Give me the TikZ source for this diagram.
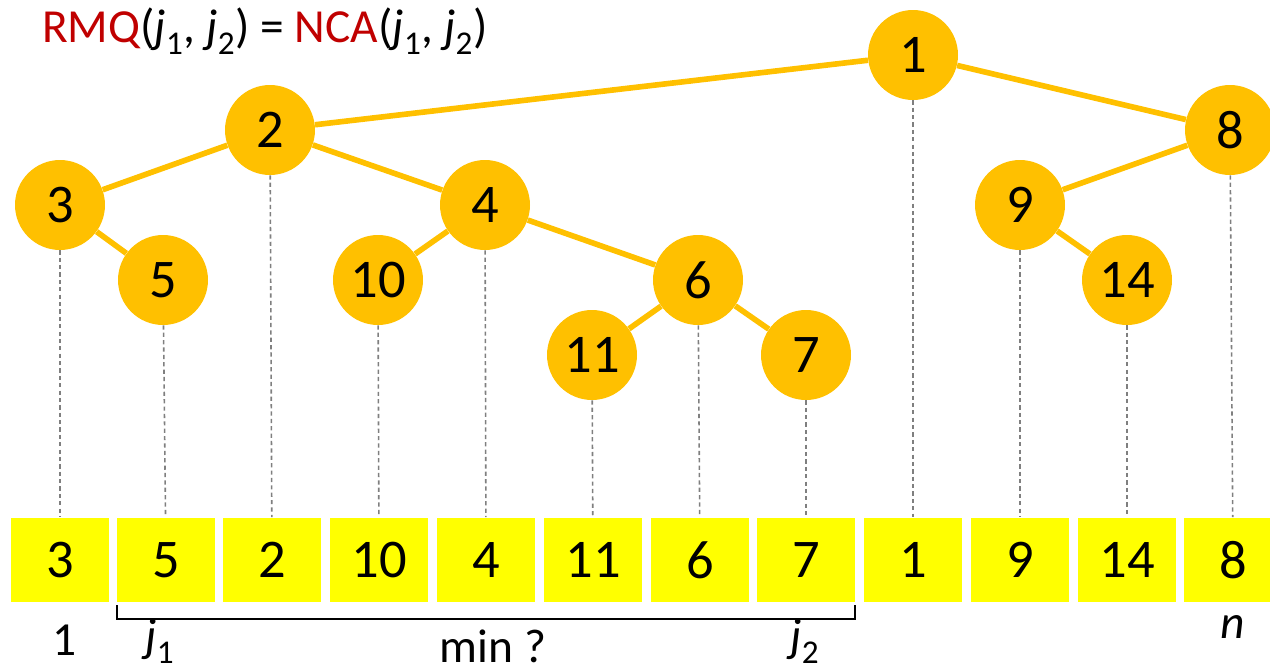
\documentclass[tikz,border=0pt]{standalone}
\usepackage{fontspec}
\setmainfont{Carlito}
\usepackage{xcolor}
\usepackage{tikz}

\definecolor{gold}{HTML}{FFC000}
\definecolor{cellyellow}{HTML}{FFFF00}
\definecolor{darkred}{HTML}{C00000}
\definecolor{dropgray}{HTML}{7F7F7F}
\newcommand{\jj}[1]{\textit{j}\raisebox{-0.25ex}{\textsubscript{#1}}}

\begin{document}
\begin{tikzpicture}[x=0.02cm, y=-0.02cm,
        tnode/.style={circle, fill=gold, minimum size=1.8cm, inner sep=0pt,
                      font=\fontsize{31}{36}\selectfont},
        cell/.style={fill=cellyellow, minimum width=1.96cm, minimum height=1.7cm,
                     inner sep=0pt, font=\fontsize{31}{36}\selectfont},
        edge/.style={draw=gold, line width=3.2pt},
        drop/.style={draw=dropgray, dash pattern=on 2.4pt off 1.8pt, line width=0.9pt},
        bracket/.style={draw=black, line width=1.2pt},
        lbl/.style={font=\fontsize{27}{32}\selectfont}
    ]
        \useasboundingbox (0,0) rectangle (1270,672);

        % array
        \node[cell] (c1)  at (60,  560) {3};
        \node[cell] (c2)  at (166, 560) {5};
        \node[cell] (c3)  at (272, 560) {2};
        \node[cell] (c4)  at (379, 560) {10};
        \node[cell] (c5)  at (486, 560) {4};
        \node[cell] (c6)  at (593, 560) {11};
        \node[cell] (c7)  at (700, 560) {6};
        \node[cell] (c8)  at (806, 560) {7};
        \node[cell] (c9)  at (913, 560) {1};
        \node[cell] (c10) at (1020,560) {9};
        \node[cell] (c11) at (1127,560) {14};
        \node[cell] (c12) at (1233,560) {8};

        % cartesian tree
        \node[tnode] (t1)  at (913, 55)  {1};
        \node[tnode] (t2)  at (270, 130) {2};
        \node[tnode] (t8)  at (1230,130) {8};
        \node[tnode] (t3)  at (60,  205) {3};
        \node[tnode] (t4)  at (485, 205) {4};
        \node[tnode] (t9)  at (1020,205) {9};
        \node[tnode] (t5)  at (163, 280) {5};
        \node[tnode] (t10) at (378, 280) {10};
        \node[tnode] (t6)  at (698, 280) {6};
        \node[tnode] (t14) at (1127,280) {14};
        \node[tnode] (t11) at (592, 355) {11};
        \node[tnode] (t7)  at (806, 355) {7};

        \draw[edge] (t1) -- (t2);
        \draw[edge] (t1) -- (t8);
        \draw[edge] (t2) -- (t3);
        \draw[edge] (t2) -- (t4);
        \draw[edge] (t3) -- (t5);
        \draw[edge] (t4) -- (t10);
        \draw[edge] (t4) -- (t6);
        \draw[edge] (t6) -- (t11);
        \draw[edge] (t6) -- (t7);
        \draw[edge] (t8) -- (t9);
        \draw[edge] (t9) -- (t14);

        \draw[drop] (t3)  -- (c1);
        \draw[drop] (t5)  -- (c2);
        \draw[drop] (t2)  -- (c3);
        \draw[drop] (t10) -- (c4);
        \draw[drop] (t4)  -- (c5);
        \draw[drop] (t11) -- (c6);
        \draw[drop] (t6)  -- (c7);
        \draw[drop] (t7)  -- (c8);
        \draw[drop] (t1)  -- (c9);
        \draw[drop] (t9)  -- (c10);
        \draw[drop] (t14) -- (c11);
        \draw[drop] (t8)  -- (c12);

        % query range
        \draw[bracket] ([yshift=-0.5mm]c2.south west) -- ++(0,14) -| ([yshift=-0.5mm]c8.south east);

        \node[lbl] (title) at (265, 31)
            {\textcolor{darkred}{RMQ}(\jj{1}, \jj{2}) = \textcolor{darkred}{NCA}(\jj{1}, \jj{2})};
        \node[lbl] (one)  at (65,  640) {1};
        \node[lbl] (ja)   at (160, 641) {\jj{1}};
        \node[lbl] (minq) at (493, 646) {min ?};
        \node[lbl] (jb)   at (805, 641) {\jj{2}};
        \node[lbl] (nn)   at (1233,627) {\textit{n}};
    \end{tikzpicture}
\end{document}
